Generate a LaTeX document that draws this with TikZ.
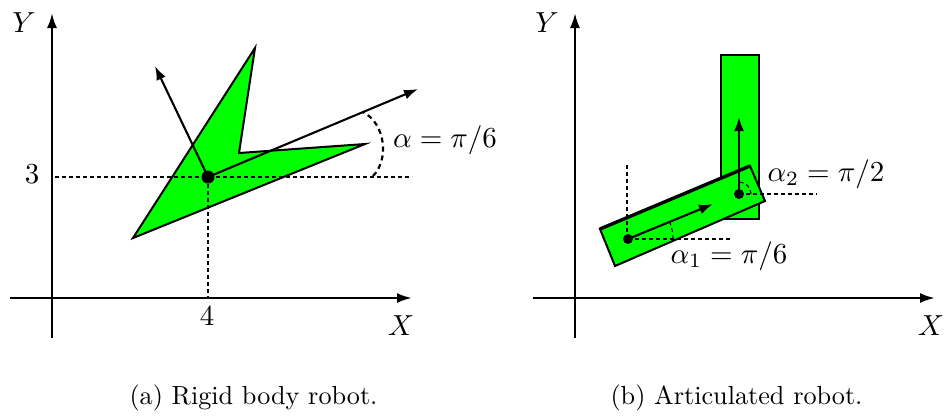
\documentclass[tikz,border=0pt]{standalone}
\usepackage{graphicx}
\usetikzlibrary{arrows.meta}
\newcommand{\lblbox}[1]{\scalebox{2.9}{#1}}
\newcommand{\capbox}[1]{\scalebox{2.62}{#1}}
\definecolor{robgreen}{RGB}{0,255,0}
\begin{document}
\begin{tikzpicture}[x=1pt,y=-1pt,
  axis/.style={line width=2.4pt,-{Latex[length=15pt,width=10pt]}},
  vec/.style={line width=2.1pt,-{Latex[length=14pt,width=10pt]}},
  smallvec/.style={line width=2.1pt,-{Latex[length=14pt,width=10pt]}},
  guide/.style={line width=1.1pt,dash pattern=on 4pt off 3pt},
  anglemark/.style={line width=2.2pt,dash pattern=on 5pt off 4pt},
  body/.style={fill=robgreen,draw=black,line width=2pt,line join=miter},
  lbl/.style={inner sep=0pt,anchor=base},
  dotmark/.style={fill=black}]
\useasboundingbox (0,0) rectangle (944,416);

% ---------- (a) rigid body ----------
\coordinate (aO) at (52,338);
\coordinate (aYt) at (52,13);
\coordinate (aXs) at (10,298);
\coordinate (aXt) at (412,298);
\coordinate (aP) at (208,177);
\coordinate (aH0) at (55,177);
\coordinate (aH1) at (412,177);
\coordinate (aV1) at (208,298);
\coordinate (p1) at (133,238);
\coordinate (p2) at (255,48);
\coordinate (p3) at (239,153);
\coordinate (p4) at (365,144);
\coordinate (aU) at (418,89);
\coordinate (aN) at (155,66);
\coordinate (aA0) at (373,176);
\coordinate (aA1) at (363,112);

\draw[axis] (aO) -- (aYt);
\draw[axis] (aXs) -- (aXt);
\draw[body] (p1) -- (p2) -- (p3) -- (p4) -- cycle;
\draw[guide] (aH0) -- (aH1);
\draw[guide] (aP) -- (aV1);
\draw[anglemark] (aA0) .. controls (389,160) and (386,124) .. (aA1);
\draw[vec] (aP) -- (aU);
\draw[vec] (aP) -- (aN);
\fill[dotmark] (aP) circle (6.5);

\node[lbl] (aYl) at (24,32) {\lblbox{$Y$}};
\node[lbl] (aXl) at (401,335) {\lblbox{$X$}};
\node[lbl] (a3) at (32,183) {\lblbox{$3$}};
\node[lbl] (a4) at (207,325) {\lblbox{$4$}};
\node[lbl] (aal) at (445,147) {\lblbox{$\alpha=\pi/6$}};
\node[lbl] (acap) at (253.5,404) {\capbox{(a) Rigid body robot.}};

% ---------- (b) articulated ----------
\coordinate (bO) at (575,338);
\coordinate (bYt) at (575,13);
\coordinate (bXs) at (533,298);
\coordinate (bXt) at (935,298);
\coordinate (r1) at (721,55);
\coordinate (r2) at (759,219);
\coordinate (q1) at (600,229);
\coordinate (q2) at (750,166);
\coordinate (q3) at (765,201);
\coordinate (q4) at (615,266);
\coordinate (bP1) at (628,239);
\coordinate (bP2) at (739,194);
\coordinate (bU1) at (713,204);
\coordinate (bU2) at (739,117);
\coordinate (bV0) at (627,165);
\coordinate (bV1) at (627,239);
\coordinate (bH1) at (732,239);
\coordinate (bH2) at (817,194);

\draw[axis] (bO) -- (bYt);
\draw[axis] (bXs) -- (bXt);
\draw[body] (r1) rectangle (r2);
\draw[body] (q1) -- (q2) -- (q3) -- (q4) -- cycle;
\draw[line width=3.4pt] (q1) -- (q2);
\draw[guide] (bV0) -- (bV1);
\draw[guide] (bP1) -- (bH1);
\draw[guide] (bP2) -- (bH2);
\draw[guide] (bP1) ++(45,0) arc[start angle=0,end angle=-22,radius=45];
\draw[guide] (bP2) ++(12,0) arc[start angle=0,end angle=-90,radius=12];
\draw[smallvec] (bP1) -- (bU1);
\draw[smallvec] (bP2) -- (bU2);
\fill[dotmark] (bP1) circle (5);
\fill[dotmark] (bP2) circle (5);

\node[lbl] (bYl) at (547,32) {\lblbox{$Y$}};
\node[lbl] (bXl) at (931,335) {\lblbox{$X$}};
\node[lbl] (ba2) at (826,181) {\lblbox{$\alpha_2=\pi/2$}};
\node[lbl] (ba1) at (729,263) {\lblbox{$\alpha_1=\pi/6$}};
\node[lbl] (bcap) at (736.5,404) {\capbox{(b) Articulated robot.}};
\end{tikzpicture}
\end{document}
